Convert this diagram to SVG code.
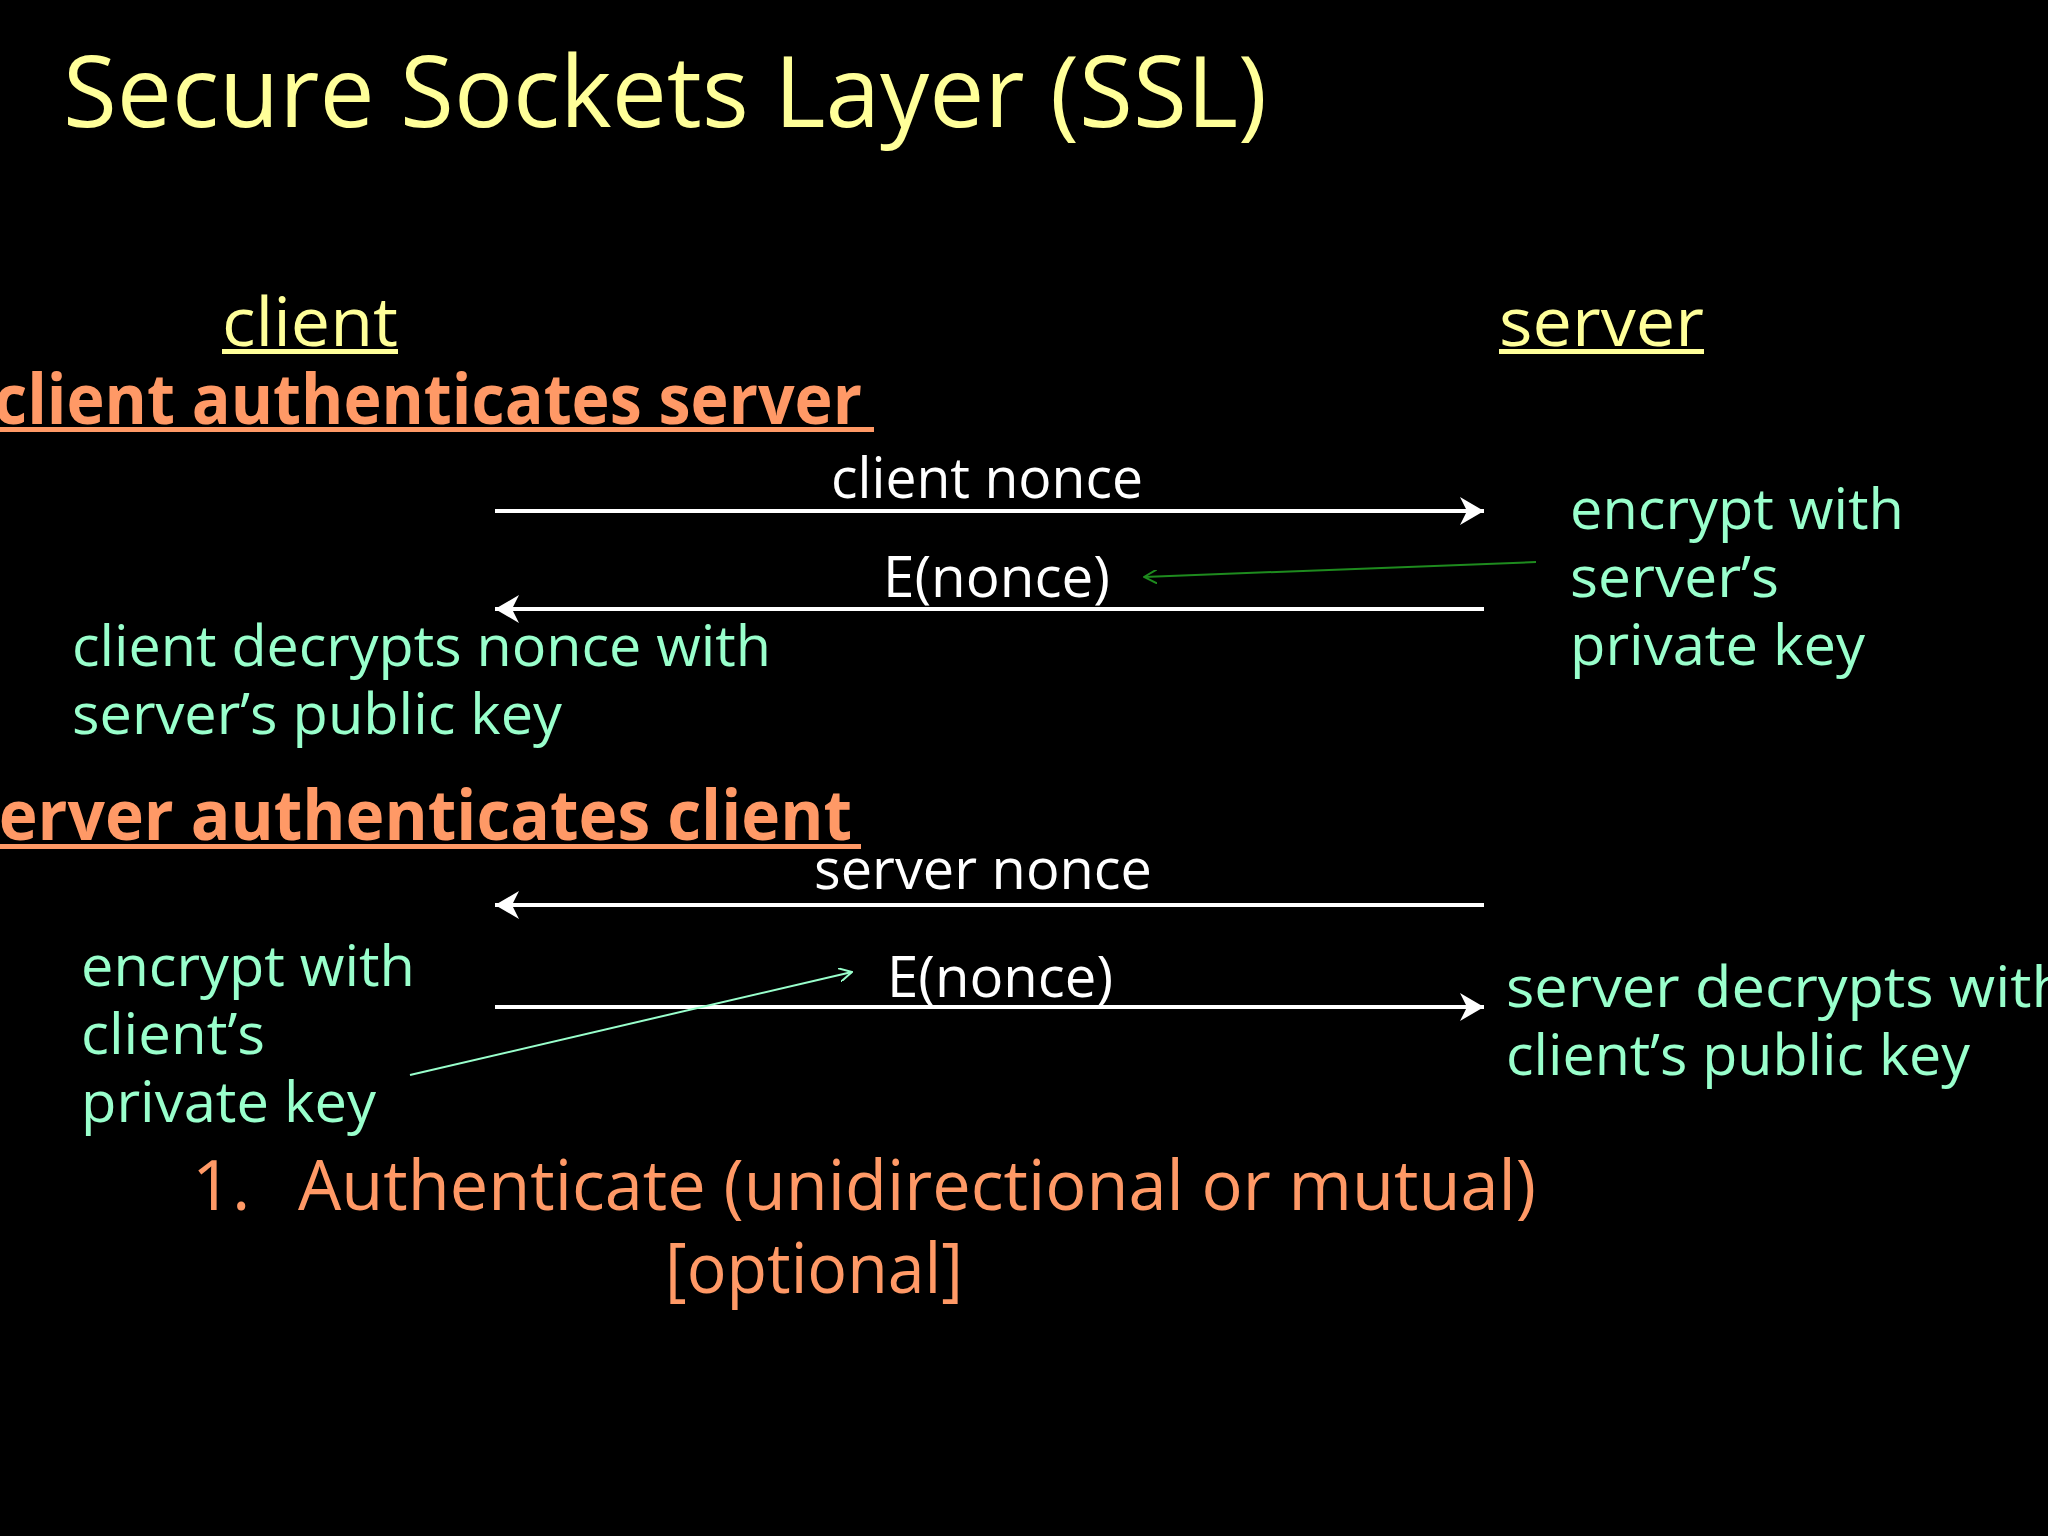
<svg xmlns="http://www.w3.org/2000/svg" width="2048" height="1536" viewBox="0 0 2048 1536">
<defs>
<style>
text{font-family:"Open Sans","Noto Sans","DejaVu Sans",sans-serif}
.title{fill:#FFFF99;font-size:98px}
.role{fill:#FFFF99;font-size:68px}
.head{fill:#FF9966;font-size:70px;font-weight:bold}
.msg{fill:#FFFFFF;font-size:56px}
.note{fill:#99FFCC;font-size:56px}
.step{fill:#FF9966;font-size:70px}
.arrow{stroke:#FFFFFF;stroke-width:4;fill:none}
</style>
<marker id="ah" markerUnits="userSpaceOnUse" markerWidth="26" markerHeight="28" refX="24" refY="14" orient="auto">
<path d="M0,0 L24,14 L0,28 L7,14 Z" fill="#FFFFFF"/>
</marker>
<marker id="ahGreen" markerUnits="userSpaceOnUse" markerWidth="14" markerHeight="14" refX="13" refY="7" orient="auto">
<path d="M0,0 L13,7 L0,14" fill="none" stroke="#1E8B1E" stroke-width="2"/>
</marker>
<marker id="ahTeal" markerUnits="userSpaceOnUse" markerWidth="14" markerHeight="14" refX="13" refY="7" orient="auto">
<path d="M0,0 L13,7 L0,14" fill="none" stroke="#99FFCC" stroke-width="2"/>
</marker>
</defs>
<rect width="2048" height="1536" fill="#000000"/>

<g id="title"><text class="title" x="63" y="127" textLength="1204" lengthAdjust="spacingAndGlyphs">Secure Sockets Layer (SSL)</text></g>

<g id="client">
<text class="role" x="222" y="346" textLength="176" lengthAdjust="spacingAndGlyphs">client</text>
<rect x="222" y="349" width="176" height="5" fill="#FFFF99"/>
</g>
<g id="server">
<text class="role" x="1499" y="346" textLength="205" lengthAdjust="spacingAndGlyphs">server</text>
<rect x="1499" y="349" width="205" height="5" fill="#FFFF99"/>
</g>

<g id="heading-client-auth">
<text class="head" x="-6" y="424" textLength="868" lengthAdjust="spacingAndGlyphs">client  authenticates  server</text>
<rect x="0" y="427" width="874" height="5" fill="#FF9966"/>
</g>

<g id="msg-client-nonce"><text class="msg" x="831" y="498" textLength="312" lengthAdjust="spacingAndGlyphs">client nonce</text></g>
<g id="msg-enonce-1"><text class="msg" x="883" y="597" textLength="227" lengthAdjust="spacingAndGlyphs">E(nonce)</text></g>

<g id="note-server-encrypt">
<text class="note" x="1570" y="529" textLength="334" lengthAdjust="spacingAndGlyphs">encrypt with</text>
<text class="note" x="1570" y="597" textLength="209" lengthAdjust="spacingAndGlyphs">server’s</text>
<text class="note" x="1570" y="665" textLength="295" lengthAdjust="spacingAndGlyphs">private key</text>
</g>

<g id="note-client-decrypt">
<text class="note" x="72" y="666" textLength="699" lengthAdjust="spacingAndGlyphs">client decrypts nonce with</text>
<text class="note" x="72" y="734" textLength="490" lengthAdjust="spacingAndGlyphs">server’s public key</text>
</g>

<g id="heading-server-auth">
<text class="head" x="-34" y="840" textLength="886" lengthAdjust="spacingAndGlyphs">server  authenticates  client</text>
<rect x="0" y="844" width="861" height="5" fill="#FF9966"/>
</g>

<g id="msg-server-nonce"><text class="msg" x="814" y="889" textLength="338" lengthAdjust="spacingAndGlyphs">server nonce</text></g>
<g id="msg-enonce-2"><text class="msg" x="887" y="997" textLength="226" lengthAdjust="spacingAndGlyphs">E(nonce)</text></g>

<g id="note-client-encrypt">
<text class="note" x="81" y="986" textLength="334" lengthAdjust="spacingAndGlyphs">encrypt with</text>
<text class="note" x="81" y="1054" textLength="184" lengthAdjust="spacingAndGlyphs">client’s</text>
<text class="note" x="81" y="1122" textLength="295" lengthAdjust="spacingAndGlyphs">private key</text>
</g>

<g id="note-server-decrypt">
<text class="note" x="1506" y="1007" textLength="562" lengthAdjust="spacingAndGlyphs">server decrypts with</text>
<text class="note" x="1506" y="1075" textLength="464" lengthAdjust="spacingAndGlyphs">client’s public key</text>
</g>

<g id="step">
<text class="step" x="192" y="1210">1.</text>
<text class="step" x="298" y="1210" textLength="1238" lengthAdjust="spacingAndGlyphs">Authenticate (unidirectional or mutual)</text>
<text class="step" x="665" y="1293" textLength="298" lengthAdjust="spacingAndGlyphs">[optional]</text>
</g>

<g id="connectors">
<line class="arrow" x1="495" y1="511" x2="1484" y2="511" marker-end="url(#ah)"/>
<line class="arrow" x1="1484" y1="609" x2="495" y2="609" marker-end="url(#ah)"/>
<line class="arrow" x1="1484" y1="905" x2="495" y2="905" marker-end="url(#ah)"/>
<line class="arrow" x1="495" y1="1007" x2="1484" y2="1007" marker-end="url(#ah)"/>
<line x1="1536" y1="562" x2="1144" y2="577" stroke="#1E8B1E" stroke-width="2" marker-end="url(#ahGreen)"/>
<line x1="410" y1="1075" x2="852" y2="972" stroke="#99FFCC" stroke-width="2" marker-end="url(#ahTeal)"/>
</g>
</svg>
